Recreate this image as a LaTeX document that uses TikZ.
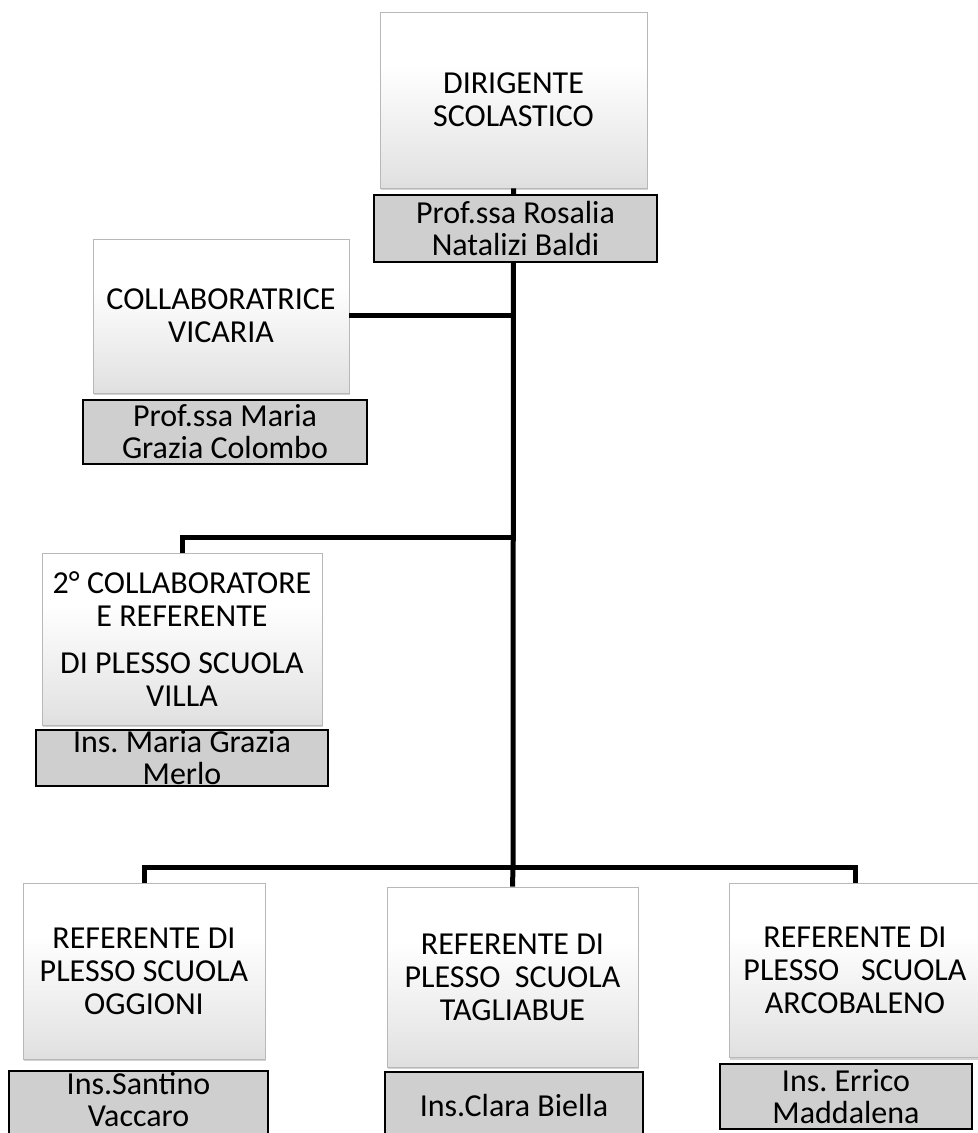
\documentclass[tikz,border=0pt]{standalone}
\usepackage{fontspec}
\setmainfont{Carlito}
\frenchspacing
\usetikzlibrary{shadows}
\definecolor{namefill}{HTML}{CFCFCF}
\definecolor{titleedge}{HTML}{B8B8B8}
\pgfdeclareverticalshading{titleshade}{100bp}{color(0bp)=(gray!75); color(4bp)=(gray!48); color(28bp)=(gray!22); color(60bp)=(white); color(100bp)=(white)}
\tikzset{
  titlebox/.style={draw=titleedge, shading=titleshade, align=center, inner sep=2pt,
    font=\fontsize{16}{16.5}\selectfont,
    drop shadow={shadow xshift=0.6pt, shadow yshift=-1.2pt, opacity=0.35}},
  namebox/.style={draw=black, line width=1pt, fill=namefill, inner sep=0pt},
  nametext/.style={align=center, font=\fontsize{16}{16}\selectfont},
  link/.style={line width=2.5pt},
}
\begin{document}
\begin{tikzpicture}[x=0.5pt,y=-0.5pt]
\clip (0,0) rectangle (978,1133);
% junctions on the trunk
\coordinate (j2) at (513,537);
\coordinate (j3) at (513,867);
% top
\node[titlebox, minimum width=133.5pt, minimum height=88pt] (dir) at (513.5,100)
  {DIRIGENTE\\SCOLASTICO};
\node[titlebox, minimum width=128pt, minimum height=77pt] (vic) at (221,316)
  {COLLABORATRICE\\VICARIA};
\node[titlebox, minimum width=140pt, minimum height=86pt] (villa) at (182,639)
  {2° COLLABORATORE\\E REFERENTE\\[7pt]DI PLESSO SCUOLA\\VILLA};
% bottom row
\node[titlebox, minimum width=121pt, minimum height=88pt] (ogg) at (144,971)
  {REFERENTE DI\\PLESSO SCUOLA\\OGGIONI};
\node[titlebox, minimum width=125.5pt, minimum height=90pt] (tag) at (512.5,977)
  {REFERENTE DI\\PLESSO\ \ SCUOLA\\TAGLIABUE};
\node[titlebox, minimum width=126pt, minimum height=87pt] (arc) at (855,970.5)
  {REFERENTE DI\\PLESSO\ \ \ SCUOLA\\ARCOBALENO};
% connectors
\draw[link] (dir.south) -- (j3);
\draw[link] (vic.east) -- (vic.east -| j3);
\draw[link] (j2) -| (villa.north);
\draw[link] (ogg.north) |- (j3) -| (arc.north);
\draw[link] (j3) -- (tag.north);
% names
\node[namebox, minimum width=141.5pt, minimum height=33.5pt,
  label={[nametext]center:Prof.ssa Rosalia\\Natalizi Baldi}] (dirN) at (515.5,228.5) {};
\node[namebox, minimum width=142pt, minimum height=32pt,
  label={[nametext]center:Prof.ssa Maria\\Grazia Colombo}] (vicN) at (225,432) {};
\node[namebox, minimum width=146pt, minimum height=28pt,
  label={[nametext]center:Ins. Maria Grazia\\Merlo}] (villaN) at (182,758) {};
\node[namebox, minimum width=129.5pt, minimum height=35pt,
  label={[nametext, yshift=3pt]center:Ins.Santino\\Vaccaro}] (oggN) at (138.5,1106) {};
\node[namebox, minimum width=129pt, minimum height=34pt,
  label={[nametext]center:Ins.Clara Biella}] (tagN) at (514,1106) {};
\node[namebox, minimum width=126pt, minimum height=32.5pt,
  label={[nametext]center:Ins. Errico\\Maddalena}] (arcN) at (846,1096.5) {};
\end{tikzpicture}
\end{document}
